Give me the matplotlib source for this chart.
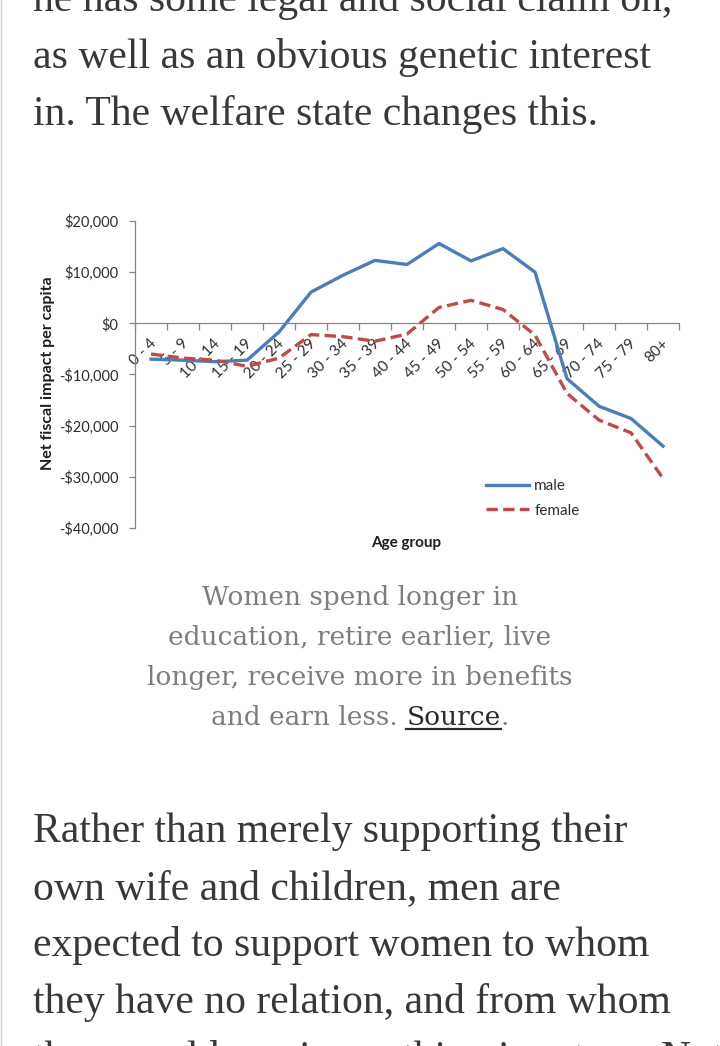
import matplotlib
matplotlib.use("Agg")
import matplotlib.pyplot as plt
import matplotlib.transforms as mtransforms

# chart data
age_groups = ["0 - 4", "5 - 9", "10 - 14", "15 - 19", "20 - 24", "25 - 29",
              "30 - 34", "35 - 39", "40 - 44", "45 - 49", "50 - 54", "55 - 59",
              "60 - 64", "65 - 69", "70 - 74", "75 - 79", "80+"]
male = [-7000, -7200, -7500, -7200, -1700, 6100, 9400, 12300, 11500,
        15600, 12200, 14600, 10000, -10800, -16200, -18600, -24000]
female = [-6000, -6800, -7200, -8400, -6800, -2200, -2600, -3500, -2100,
          3100, 4500, 2700, -2300, -13700, -18900, -21400, -30300]
yticks = [20000, 10000, 0, -10000, -20000, -30000, -40000]

top_lines = ["he has some legal and social claim on,",
             "as well as an obvious genetic interest",
             "in. The welfare state changes this."]
caption_lines = ["Women spend longer in",
                 "education, retire earlier, live",
                 "longer, receive more in benefits"]
caption_last = ["and earn less.", "Source", "."]
bottom_lines = ["Rather than merely supporting their",
                "own wife and children, men are",
                "expected to support women to whom",
                "they have no relation, and from whom",
                "they would receive nothing in return. Not"]

W, H = 720, 1046


def fx(x):
    return x / W


def fy(y):
    return 1 - y / H


fig = plt.figure(figsize=(W / 100, H / 100), dpi=100)
fig.patch.set_facecolor("white")

BODY = "#383838"
GREY = "#7d7d7d"
AXC = "#868686"
TICKC = "#2e2e2e"
sans = ["Lato", "DejaVu Sans"]

# article text above the chart
for i, line in enumerate(top_lines):
    fig.text(fx(33), fy(11 + 57 * i), line, family="Liberation Serif",
             fontsize=30, color=BODY, va="baseline", ha="left")

# chart
ax = fig.add_axes([fx(135), fy(528), 544 / W, 307 / H])
x = [i + 0.5 for i in range(len(age_groups))]
ax.plot(x, male, color="#4a7ebb", lw=2.4, label="male", solid_joinstyle="round")
ax.plot(x, female, color="#be4b48", lw=2.4, label="female",
        dashes=(3.4, 1.6), dash_joinstyle="round")

ax.set_xlim(0, len(age_groups))
ax.set_ylim(-40000, 20000)
for s in ["top", "right"]:
    ax.spines[s].set_visible(False)
ax.spines["bottom"].set_position(("data", 0))
for s in ["left", "bottom"]:
    ax.spines[s].set_color(AXC)
    ax.spines[s].set_linewidth(0.9)

ax.set_yticks(yticks)
ax.set_yticklabels([("-$" if v < 0 else "$") + f"{abs(v):,}" for v in yticks],
                   family=sans, fontsize=10.5, color=TICKC)
ax.tick_params(axis="y", direction="out", length=4, width=0.9, color=AXC, pad=8)

ax.set_xticks(x)
ax.set_xticklabels(age_groups, rotation=45, ha="right", va="center",
                   rotation_mode="anchor", family=sans, fontsize=11, color=TICKC)
ax.set_xticks(range(len(age_groups) + 1), minor=True)
ax.tick_params(axis="x", which="major", length=0, pad=13)
ax.tick_params(axis="x", which="minor", direction="out", length=5, width=0.9, color=AXC)
shift = mtransforms.ScaledTranslation(0.03, 0, fig.dpi_scale_trans)
for lab in ax.get_xticklabels():
    lab.set_transform(lab.get_transform() + shift)

fig.text(fx(48), fy(373), "Net fiscal impact per capita", rotation=90,
         family=sans, fontweight="bold", fontsize=11.5, color="#1e1e1e",
         ha="center", va="center")
fig.text(fx(406), fy(543), "Age group", family=sans, fontweight="bold",
         fontsize=11, color="#1e1e1e", ha="center", va="center")

ax.legend(loc="upper left", bbox_to_anchor=(fx(486), fy(479)),
          bbox_transform=fig.transFigure, frameon=False, borderpad=0,
          borderaxespad=0, handlelength=2.8, handletextpad=0.35,
          labelspacing=0.7, prop={"family": sans, "size": 11})
for t in ax.get_legend().get_texts():
    t.set_color(TICKC)

# caption
for i, line in enumerate(caption_lines):
    fig.text(fx(360), fy(605 + 40 * i), line, family="DejaVu Serif",
             fontsize=19, color=GREY, ha="center", va="baseline")

renderer = fig.canvas.get_renderer()


def width_px(s):
    t = fig.text(0, 0, s, family="DejaVu Serif", fontsize=19)
    w = t.get_window_extent(renderer).width
    t.remove()
    return w


full_w = width_px(" ".join(caption_last[:2]) + caption_last[2])
tail_w = width_px(caption_last[1] + caption_last[2])
src_w = width_px(caption_last[1])
dot_w = width_px(caption_last[2])
x0 = 360 - full_w / 2
x_src = x0 + full_w - tail_w
x_dot = x_src + tail_w - dot_w
yb = 725
fig.text(fx(x0), fy(yb), caption_last[0], family="DejaVu Serif", fontsize=19,
         color=GREY, va="baseline")
fig.text(fx(x_src), fy(yb), caption_last[1], family="DejaVu Serif", fontsize=19,
         color="#2a2a2a", va="baseline")
fig.text(fx(x_dot), fy(yb), caption_last[2], family="DejaVu Serif", fontsize=19,
         color=GREY, va="baseline")
fig.add_artist(plt.Line2D([fx(x_src), fx(x_src + src_w)], [fy(729), fy(729)],
                          color="#2a2a2a", lw=1.6))

# article text below the chart
for i, line in enumerate(bottom_lines):
    fig.text(fx(33), fy(842 + 57 * i), line, family="Liberation Serif",
             fontsize=30, color=BODY, va="baseline", ha="left")

# thin page edge on the left
fig.add_artist(plt.Line2D([0.0008, 0.0008], [0, 1], color="#d0d0d0", lw=1))

fig.savefig("out.png", dpi=100)
